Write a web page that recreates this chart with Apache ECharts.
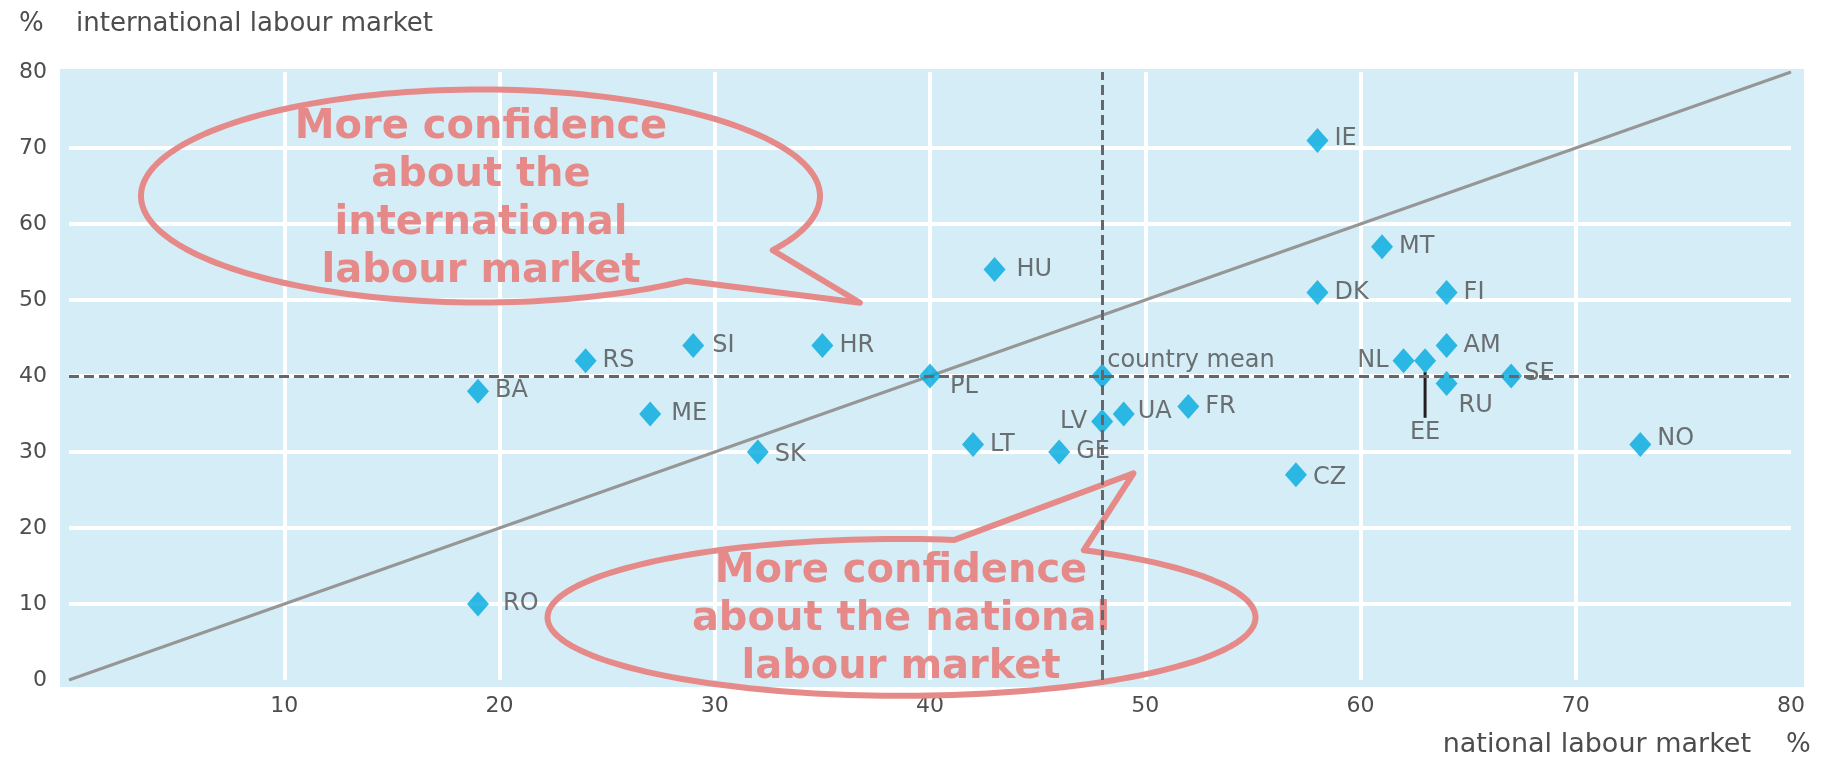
<!DOCTYPE html>
<html>
<head>
<meta charset="utf-8">
<title>National vs international labour market confidence</title>
<script src="https://cdn.jsdelivr.net/npm/echarts@6/dist/echarts.min.js"></script>
<style>
    html, body { margin: 0; padding: 0; background: #fff; }
    #chart { width: 1829px; height: 759px; }
</style>
</head>
<body>
<div id="chart"></div>
<script>
    // share of respondents (%) confident about the national / international labour market
    const countries = ['IE', 'MT', 'HU', 'DK', 'FI', 'SI', 'HR', 'RS', 'AM', 'NL', 'EE', 'PL', 'SE',
        'RU', 'BA', 'ME', 'UA', 'FR', 'LV', 'LT', 'GE', 'SK', 'NO', 'CZ', 'RO', 'country mean']
    const nationalPct = [58, 61, 43, 58, 64, 29, 35, 24, 64, 62, 63, 40, 67,
        64, 19, 27, 49, 52, 48, 42, 46, 32, 73, 57, 19, 48]
    const internationalPct = [71, 57, 54, 51, 51, 44, 44, 42, 44, 42, 42, 40, 40,
        39, 38, 35, 35, 36, 34, 31, 30, 30, 31, 27, 10, 40]
    // equal confidence in both markets
    const parityLine = [[0, 0], [80, 80]]
    const axisMin = 0
    const axisMax = 80
    const axisStep = 10

    const textGray = '#4d4d4f'
    const salmon = '#e68a89'
    const fontName = '"DejaVu Sans", sans-serif'

    // label placement that differs from the default (right of the marker)
    const labelTweaks = {
        'IE': { offset: [0, -2] },
        'HU': { offset: [5, 0] },
        'SI': { offset: [2, 0] },
        'PL': { offset: [3, 11] },
        'LV': { position: 'left', distance: 4 },
        'NL': { position: 'left', distance: 4 },
        'EE': { position: 'bottom', distance: 47 },
        'country mean': { offset: [-12, -15] },
        'RU': { offset: [-5, 22] },
        'SE': { offset: [-4, -2] },
        'NO': { offset: [0, -6] },
        'RO': { offset: [8, 0] },
        'UA': { offset: [-3, -2] },
        'ME': { offset: [4, 0] },
        'CZ': { offset: [0, 3] },
        'SK': { offset: [0, 3] }
    }

    const meanIdx = countries.indexOf('country mean')
    const meanX = nationalPct[meanIdx]
    const meanY = internationalPct[meanIdx]

    const points = countries.map((c, i) => ({
        name: c,
        value: [nationalPct[i], internationalPct[i]],
        label: Object.assign({}, labelTweaks[c] || {})
    }))

    const axisCommon = {
        type: 'value',
        min: axisMin,
        max: axisMax,
        interval: axisStep,
        axisLine: { show: false },
        axisTick: { show: false },
        splitLine: {
            show: true,
            showMinLine: false,
            showMaxLine: false,
            lineStyle: { color: '#ffffff', width: 4 }
        }
    }

    const chart = echarts.init(document.getElementById('chart'))
    chart.setOption({
        animation: false,
        backgroundColor: '#ffffff',
        grid: {
            left: 69,
            right: 38,
            top: 72,
            bottom: 79,
            containLabel: false,
            outerBoundsMode: 'none'
        },
        xAxis: Object.assign({}, axisCommon, {
            axisLabel: {
                margin: 15,
                fontFamily: fontName,
                fontSize: 22,
                color: textGray,
                formatter: v => (v === 0 ? '' : v)
            }
        }),
        yAxis: Object.assign({}, axisCommon, {
            axisLabel: {
                margin: 22,
                fontFamily: fontName,
                fontSize: 22,
                color: textGray
            }
        }),
        series: [{
            type: 'line',
            data: parityLine,
            symbol: 'none',
            silent: true,
            z: 2,
            lineStyle: { color: '#969696', width: 3 },
            markLine: {
                silent: true,
                symbol: ['none', 'none'],
                label: { show: false },
                lineStyle: { type: [10, 5], color: '#66676a', width: 3 },
                data: [{ yAxis: meanY }, { xAxis: meanX }]
            }
        }, {
            type: 'scatter',
            data: points,
            symbol: 'diamond',
            symbolSize: [22, 25],
            z: 3,
            itemStyle: { color: '#00a9de' },
            label: {
                show: true,
                position: 'right',
                distance: 6,
                formatter: '{b}',
                fontFamily: fontName,
                fontSize: 24,
                color: textGray
            }
        }]
    })

    // speech bubble outline: elliptical arc from one side of the tail round to the other, then the tip
    function bubble(cx, cy, rx, ry, fromDeg, toDeg, tip) {
        const pts = []
        const steps = 180
        for (let k = 0; k <= steps; k++) {
            const a = (fromDeg + (toDeg - fromDeg) * k / steps) * Math.PI / 180
            pts.push([cx + rx * Math.cos(a), cy + ry * Math.sin(a)])
        }
        pts.push(tip)
        return pts
    }

    const topLeft = chart.convertToPixel({ gridIndex: 0 }, [axisMin, axisMax])
    const bottomRight = chart.convertToPixel({ gridIndex: 0 }, [axisMax, axisMin])
    const eeIdx = countries.indexOf('EE')
    const eePx = chart.convertToPixel({ gridIndex: 0 }, [nationalPct[eeIdx], internationalPct[eeIdx]])

    const textStyle = (text, x, y, font, fill, align) => ({
        text: text, x: x, y: y, font: font, fill: fill,
        align: align, textAlign: align,
        verticalAlign: 'middle', textVerticalAlign: 'middle'
    })

    chart.setOption({
        graphic: [{
            // plot background, a little wider than the axis range
            type: 'rect',
            z: -10,
            silent: true,
            shape: {
                x: topLeft[0] - 9,
                y: topLeft[1] - 3,
                width: bottomRight[0] - topLeft[0] + 22,
                height: bottomRight[1] - topLeft[1] + 10
            },
            style: { fill: '#d5edf6' }
        }, {
            type: 'line',
            z: 3,
            silent: true,
            shape: { x1: eePx[0], y1: eePx[1] + 11, x2: eePx[0], y2: eePx[1] + 57 },
            style: { stroke: '#231f20', lineWidth: 3 }
        }, {
            type: 'polygon',
            z: 1,
            silent: true,
            shape: { points: bubble(480.5, 196, 339.5, 106.5, 30.6, -307.3, [860, 302.7]) },
            style: { fill: 'none', stroke: salmon, lineWidth: 6, lineJoin: 'round' }
        }, {
            type: 'polygon',
            z: 1,
            silent: true,
            shape: { points: bubble(901.5, 617.4, 354, 78.4, -59, 278.6, [1133.5, 473.3]) },
            style: { fill: 'none', stroke: salmon, lineWidth: 6, lineJoin: 'round' }
        }, {
            type: 'text',
            z: 1,
            silent: true,
            style: Object.assign(textStyle('More confidence\nabout the\ninternational\nlabour market',
                481, 200, 'bold 40px ' + fontName, salmon, 'center'), { lineHeight: 48 })
        }, {
            type: 'text',
            z: 1,
            silent: true,
            style: Object.assign(textStyle('More confidence\nabout the national\nlabour market',
                901, 620, 'bold 40px ' + fontName, salmon, 'center'), { lineHeight: 48 })
        }, {
            type: 'text',
            silent: true,
            style: textStyle('%', 19, 24, '26px ' + fontName, textGray, 'left')
        }, {
            type: 'text',
            silent: true,
            style: textStyle('international labour market', 76, 24, '26px ' + fontName, textGray, 'left')
        }, {
            type: 'text',
            silent: true,
            style: textStyle('national labour market', 1751, 745, '27px ' + fontName, textGray, 'right')
        }, {
            type: 'text',
            silent: true,
            style: textStyle('%', 1786, 745, '26px ' + fontName, textGray, 'left')
        }]
    })
</script>
</body>
</html>
